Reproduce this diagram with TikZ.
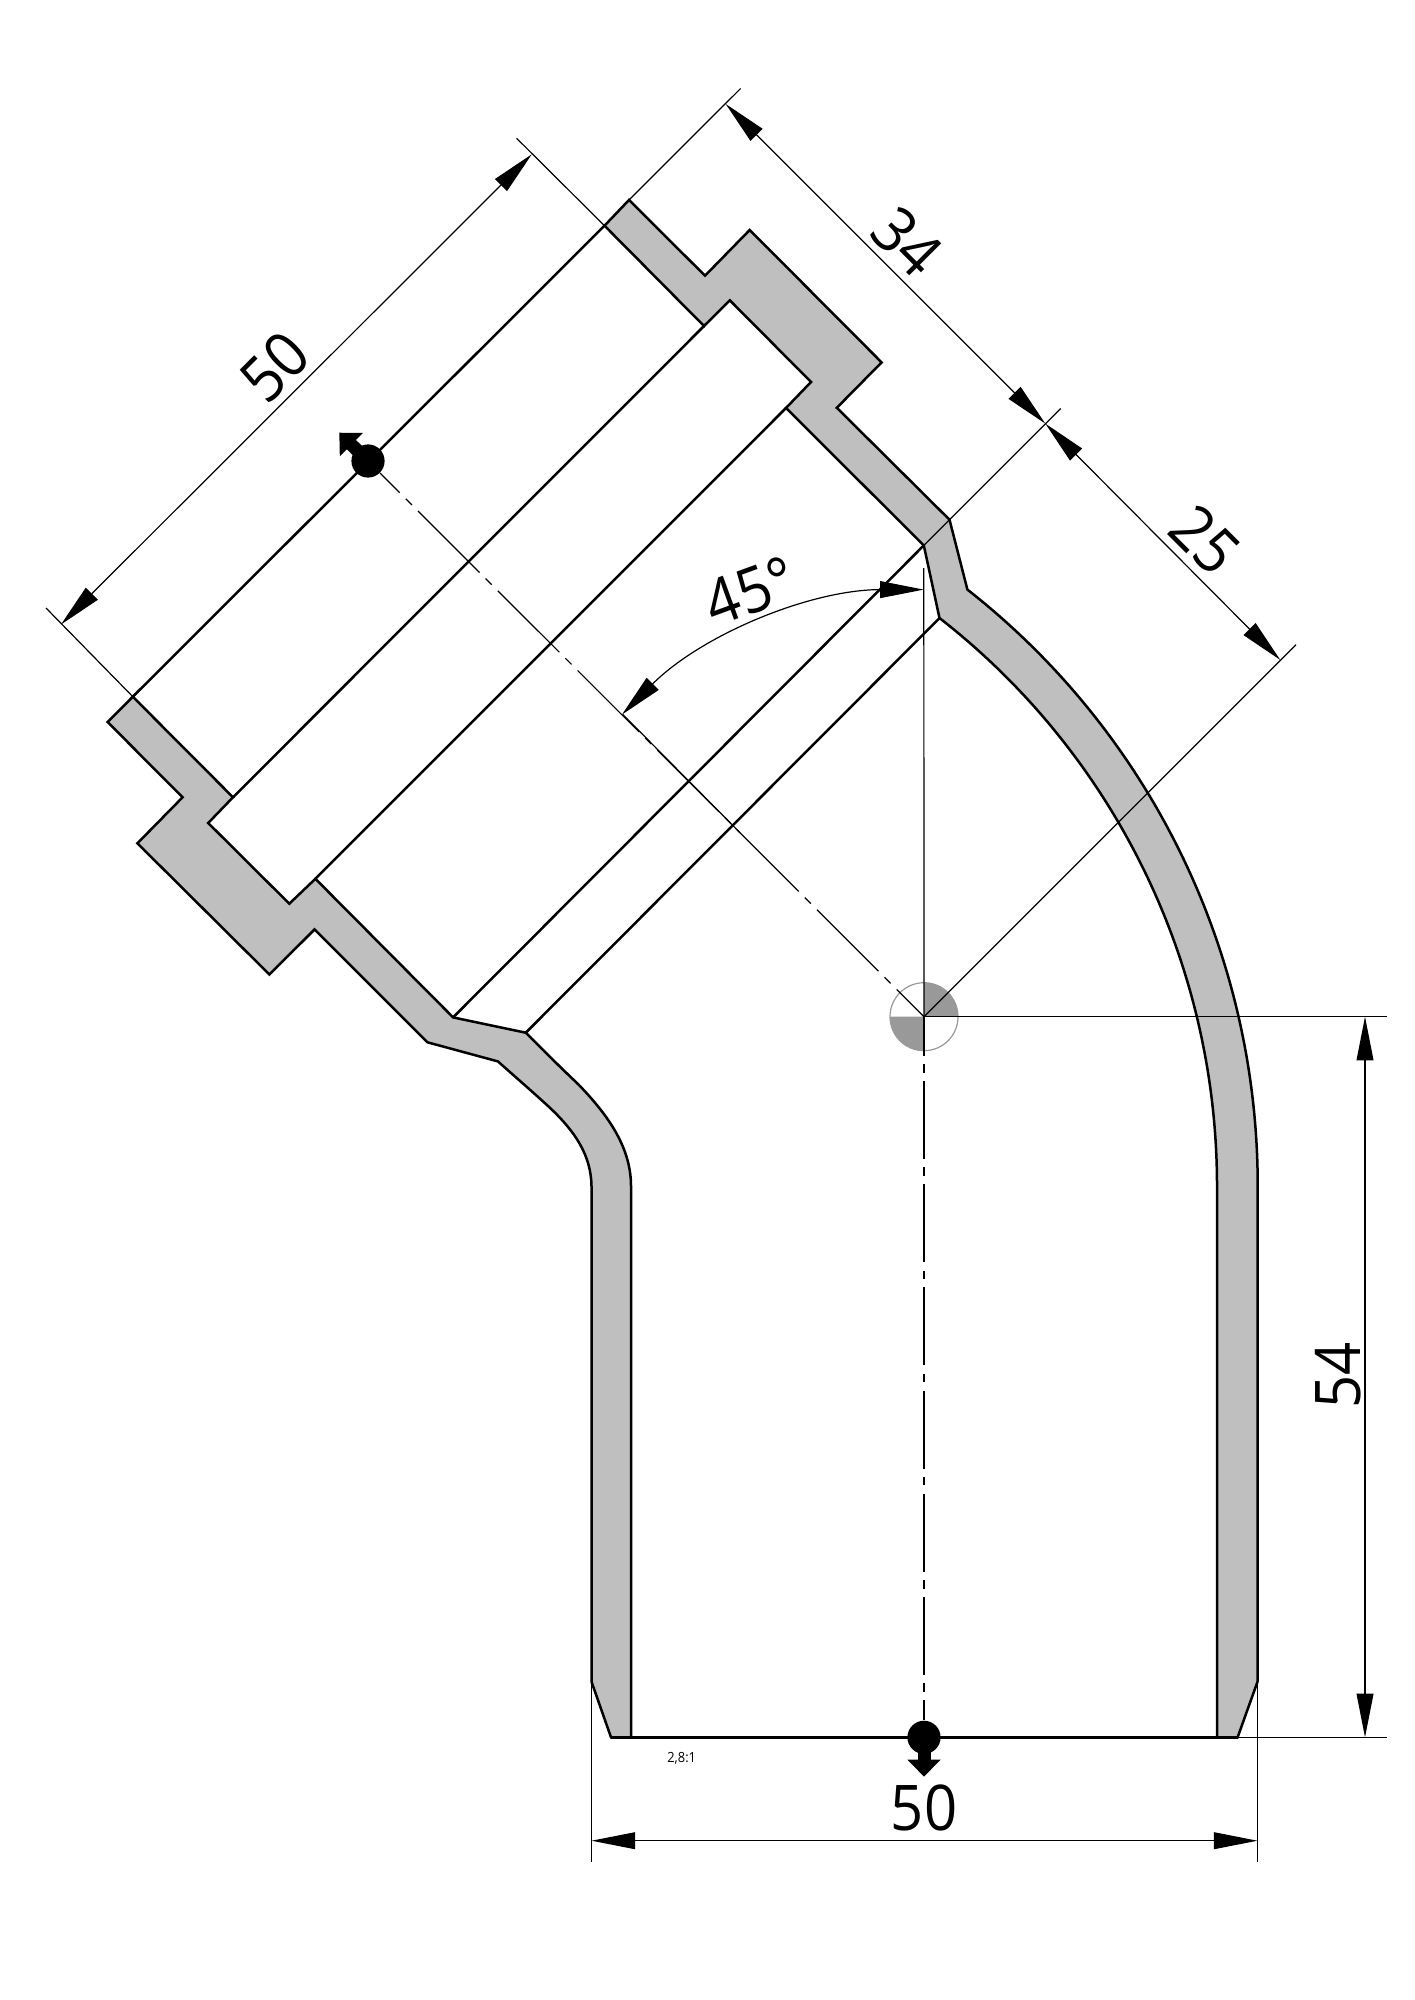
\documentclass[tikz,border=0pt]{standalone}
\usepackage{fontspec}
\setmainfont[FakeStretch=0.92]{Open Sans}
\usetikzlibrary{arrows.meta}
\definecolor{wallgray}{HTML}{BFBFBF}
\definecolor{markgray}{HTML}{999999}
\tikzset{
  wall/.style={draw=black,fill=wallgray,line width=1.25pt,line join=miter},
  boreline/.style={draw=black,line width=1.25pt},
  thinline/.style={draw=black,line width=0.6pt},
  dimline/.style={thinline,>={Triangle[length=21.8pt,width=8.4pt]}},
  axisline/.style={thinline},
  dimtext/.style={font=\fontsize{31.5}{36}\selectfont,inner sep=0pt},
  dotmark/.style={circle,fill=black,inner sep=0pt,minimum size=16.6pt},
  dotarrow/.style={line width=6.5pt,-{Triangle[length=8.5pt,width=16pt]}}
}
\begin{document}
\begin{tikzpicture}[x=0.5pt,y=-0.5pt]
  \useasboundingbox (0,0) rectangle (1414,2000);
  \coordinate (center) at (924,1016.7);

  % centre mark
  \fill[markgray] (center) -- +(34,0) arc[start angle=0,end angle=-90,radius=34] -- cycle;
  \fill[markgray] (center) -- +(0,34) arc[start angle=90,end angle=180,radius=34] -- cycle;
  \draw[markgray,line width=0.6pt] (center) circle [radius=34];

  % pipe wall
  \path[wall] (604.5,225.7) -- (629,200) -- (705,275.7) -- (749.7,230) -- (881.6,362.4)
    -- (836.8,407.8) -- (949.5,519.7) -- (967.4,589.6)
    arc[start angle=-51.9,end angle=0,radius=758]
    -- (1257.5,1681.7) -- (1237.6,1737.3) -- (1217,1737.3) -- (1217,1186)
    arc[start angle=0,end angle=-52.08,radius=720]
    -- (923.8,545.4) -- (786,408) -- (811,382) -- (729.8,300.3) -- (704,326) -- cycle;
  \path[wall] (132.8,696.7) -- (107.6,722) -- (182.6,797.3) -- (137.4,843.3) -- (269.4,974.5)
    -- (314.6,929.4) -- (427.5,1042.3) -- (497.9,1061.4)
    .. controls (520,1081) and (535,1094) .. (548,1106)
    .. controls (575,1131) and (591,1155) .. (591.5,1186)
    -- (591.5,1681.7) -- (611,1737.3) -- (631,1737.3) -- (631,1186)
    .. controls (631,1145) and (605,1112) .. (578,1084)
    .. controls (560,1067) and (543,1050) .. (525.8,1032.7)
    -- (453.1,1017.4) -- (315.4,878.8) -- (289.3,903.7) -- (208.2,823) -- (233,797.3) -- cycle;

  % bore lines
  \draw[boreline] (604.5,225.7) -- (132.8,696.7);
  \draw[boreline] (704,326) -- (233,797.3);
  \draw[boreline] (786,408) -- (315.4,878.8);
  \draw[boreline] (923.8,545.4) -- (453.1,1017.4);
  \draw[boreline] (939.6,618) -- (525.8,1032.7);
  \draw[boreline] (611,1737.3) -- (1237.6,1737.3);

  % axes
  \node[dotmark] (dotUpper) at (368,461) {};
  \node[dotmark] (dotLower) at (924,1737.3) {};
  \draw[axisline,dash pattern=on 43.5pt off 4.3pt on 4.3pt off 4.3pt,dash phase=24.2pt] (center) -- (dotUpper);
  \draw[axisline,line width=0.8pt,dash pattern=on 39pt off 4.2pt on 4.2pt off 4.2pt,dash phase=19.5pt] (center) -- (dotLower);
  \coordinate (arrowUpper) at (339.3,432.7);
  \coordinate (arrowLower) at (924,1776.7);
  \draw[dotarrow] (dotUpper.center) -- (arrowUpper);
  \draw[dotarrow] (dotLower.center) -- (arrowLower);

  % extension lines
  \coordinate (angleUpper) at (923.8,589.6);
  \coordinate (angleLower) at (622.7,714.3);
  \draw[thinline] (center) -- (923.8,568);
  \draw[thinline] (angleLower) -- (740,832.7);
  \draw[thinline] (center) -- (1296,644.7);
  \draw[thinline] (923.8,545.4) -- (1060.6,408.6);
  \draw[thinline] (629,200) -- (740.6,88.5);
  \draw[thinline] (604.5,225.7) -- (516.6,138.3);
  \draw[thinline] (132.8,696.7) -- (46,608);
  \draw[thinline] (center) -- (1387,1016.7);
  \draw[thinline] (1237.6,1737.3) -- (1387,1737.3);
  \draw[thinline] (591.5,1681.7) -- (591.5,1861.7);
  \draw[thinline] (1257.5,1681.7) -- (1257.5,1861.7);

  % dimensions
  \draw[dimline,<->] (61,624.5) -- (531.8,154.3);
  \draw[dimline,<->] (725.7,104) -- (1045.3,423.6);
  \draw[dimline,<->] (1045.3,423.6) -- (1280.3,660);
  \draw[dimline,<->] (1365,1016.7) -- (1365,1737.3);
  \draw[dimline,<->] (591.5,1840.7) -- (1257.5,1840.7);
  \draw[dimline,<->] (angleUpper) arc[start angle=-90,end angle=-135,radius=427];

  \node[dimtext,rotate=45] (labelSocket) at (275,366.7) {50};
  \node[dimtext,rotate=-45] (labelUpper) at (907,242) {34};
  \node[dimtext,rotate=-45] (labelLower) at (1205,540) {25};
  \node[dimtext,rotate=20] (labelAngle) at (750,591) {45°};
  \node[dimtext,rotate=90] (labelHeight) at (1338,1375) {54};
  \node[dimtext] (labelWidth) at (924,1807.7) {50};
  \node[font=\fontsize{7}{8}\selectfont,inner sep=0pt] (labelScale) at (681.7,1758) {2,8:1};
\end{tikzpicture}
\end{document}
